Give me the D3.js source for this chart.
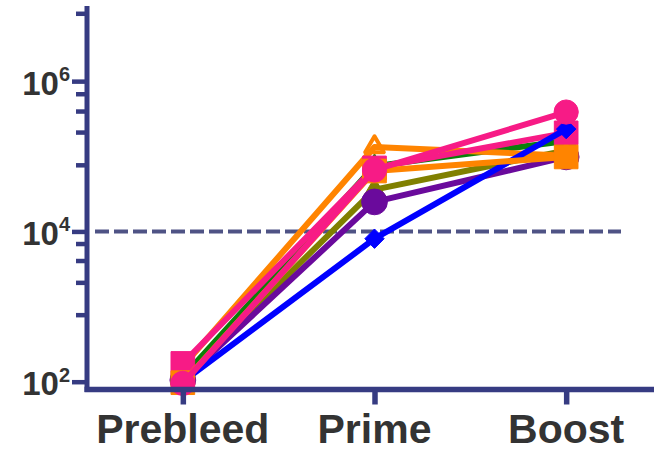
<!DOCTYPE html>
<html>
<head>
<meta charset="utf-8">
<script src="https://cdn.jsdelivr.net/npm/d3@7"></script>
<style>
  body { margin: 0; background: #fff; }
  svg { display: block; }
</style>
</head>
<body>
<div id="canvas"></div>
<script>
// timepoints on the x axis
const timepoints = ["Prebleed", "Prime", "Boost"];

// titers per animal
const oliveTriangle = [110, 36000, 120000];
const purpleCircle = [105, 24700, 98000];
const greenTriangle = [115, 74000, 160000];
const orangeOpenTriangle = [160, 133000, 102000];
const pinkSquare = [175, 70000, 205000];
const blueDiamond = [100, 8000, 230000];
const orangeSquare = [97, 63700, 98000];
const pinkCircle = [95, 65700, 388000];

// y axis ticks
const majorTicks = [1e2, 1e4, 1e6];
const minorTicks = [780, 2100, 4100, 6900, 77000, 210000, 400000, 680000, 8000000];
const cutoff = 1e4;

const w = 654;
const h = 451;
const axisColor = "#363b82";

// draw order: first is at the back
const series = [
  { values: oliveTriangle, color: "#808000", shape: d3.symbolTriangle, size: 190, fill: true },
  { values: purpleCircle, color: "#6a0a9c", shape: d3.symbolCircle, size: 520, fill: true },
  { values: greenTriangle, color: "#0a7f0a", shape: d3.symbolTriangle, size: 200, fill: true },
  { values: orangeOpenTriangle, color: "#ff8400", shape: d3.symbolTriangle, size: 150, fill: false },
  { values: pinkSquare, color: "#f71b86", shape: d3.symbolSquare, size: 560, fill: true },
  { values: blueDiamond, color: "#0000ff", shape: d3.symbolDiamond2, size: 240, fill: true },
  { values: orangeSquare, color: "#ff8400", shape: d3.symbolSquare, size: 560, fill: true },
  { values: pinkCircle, color: "#f71b86", shape: d3.symbolCircle, size: 460, fill: true }
];

const svg = d3.select("#canvas")
              .append("svg")
              .attr("width", w)
              .attr("height", h);

const axisX = 87;
const axisY = 389.5;

const x = d3.scalePoint()
            .domain(timepoints)
            .range([axisX, 662])
            .padding(0.5);

const y = d3.scaleLog()
            .domain([1e2, 1e7])
            .range([381.7, 6]);

// dashed cutoff
svg.append("line")
   .attr("x1", 95)
   .attr("x2", 621)
   .attr("y1", y(cutoff))
   .attr("y2", y(cutoff))
   .attr("stroke", "#4f5385")
   .attr("stroke-width", 4)
   .attr("stroke-dasharray", "14,5");

// series lines + markers
const line = d3.line()
               .x((d, i) => x(timepoints[i]))
               .y(d => y(d));

series.forEach(s => {
  const g = svg.append("g");
  g.append("path")
   .attr("d", line(s.values))
   .attr("fill", "none")
   .attr("stroke", s.color)
   .attr("stroke-width", 6)
   .attr("stroke-linejoin", "round");
  g.selectAll("path.marker")
   .data(s.values)
   .enter()
   .append("path")
   .attr("class", "marker")
   .attr("transform", (d, i) => "translate(" + x(timepoints[i]) + "," + y(d) + ")")
   .attr("d", d3.symbol().type(s.shape).size(s.size))
   .attr("fill", s.fill ? s.color : "none")
   .attr("stroke", s.color)
   .attr("stroke-width", s.fill ? 1 : 4)
   .attr("stroke-linejoin", "round");
});

// y axis
const yMajor = d3.axisLeft(y).tickValues(majorTicks).tickSize(15).tickFormat("");
const yMinor = d3.axisLeft(y).tickValues(minorTicks).tickSize(11).tickFormat("");

[yMajor, yMinor].forEach(ax => {
  const g = svg.append("g")
               .attr("transform", "translate(" + axisX + ",0)")
               .call(ax);
  g.select(".domain").remove();
  g.selectAll(".tick line")
   .attr("stroke", axisColor)
   .attr("stroke-width", 4.5);
});

svg.append("line")
   .attr("x1", axisX).attr("x2", axisX)
   .attr("y1", y(1e7)).attr("y2", axisY + 2.5)
   .attr("stroke", axisColor)
   .attr("stroke-width", 5);

// y labels: 10^n
const ylab = svg.append("g")
                .attr("font-family", "'Liberation Sans', Arial, sans-serif")
                .attr("font-weight", "bold")
                .attr("fill", "#333333");
majorTicks.forEach(v => {
  const t = ylab.append("text")
                .attr("x", 70)
                .attr("y", y(v) + 13.6)
                .attr("text-anchor", "end")
                .attr("font-size", 33)
                .text("10");
  t.append("tspan")
   .attr("dy", -13.6)
   .attr("font-size", 20)
   .text(Math.round(Math.log10(v)));
});

// x axis
const xAxis = d3.axisBottom(x).tickSize(15).tickSizeOuter(0).tickFormat("");
const gx = svg.append("g")
              .attr("transform", "translate(0," + axisY + ")")
              .call(xAxis);
gx.select(".domain").remove();
gx.selectAll(".tick line")
  .attr("stroke", axisColor)
  .attr("stroke-width", 5.5);

svg.append("line")
   .attr("x1", axisX - 2.5).attr("x2", 662)
   .attr("y1", axisY).attr("y2", axisY)
   .attr("stroke", axisColor)
   .attr("stroke-width", 5.5);

svg.append("g")
   .selectAll("text")
   .data(timepoints)
   .enter()
   .append("text")
   .attr("x", d => x(d))
   .attr("y", 443)
   .attr("text-anchor", "middle")
   .attr("font-family", "'Liberation Sans', Arial, sans-serif")
   .attr("font-weight", "bold")
   .attr("font-size", 41)
   .attr("fill", "#333333")
   .text(d => d);
</script>
</body>
</html>
